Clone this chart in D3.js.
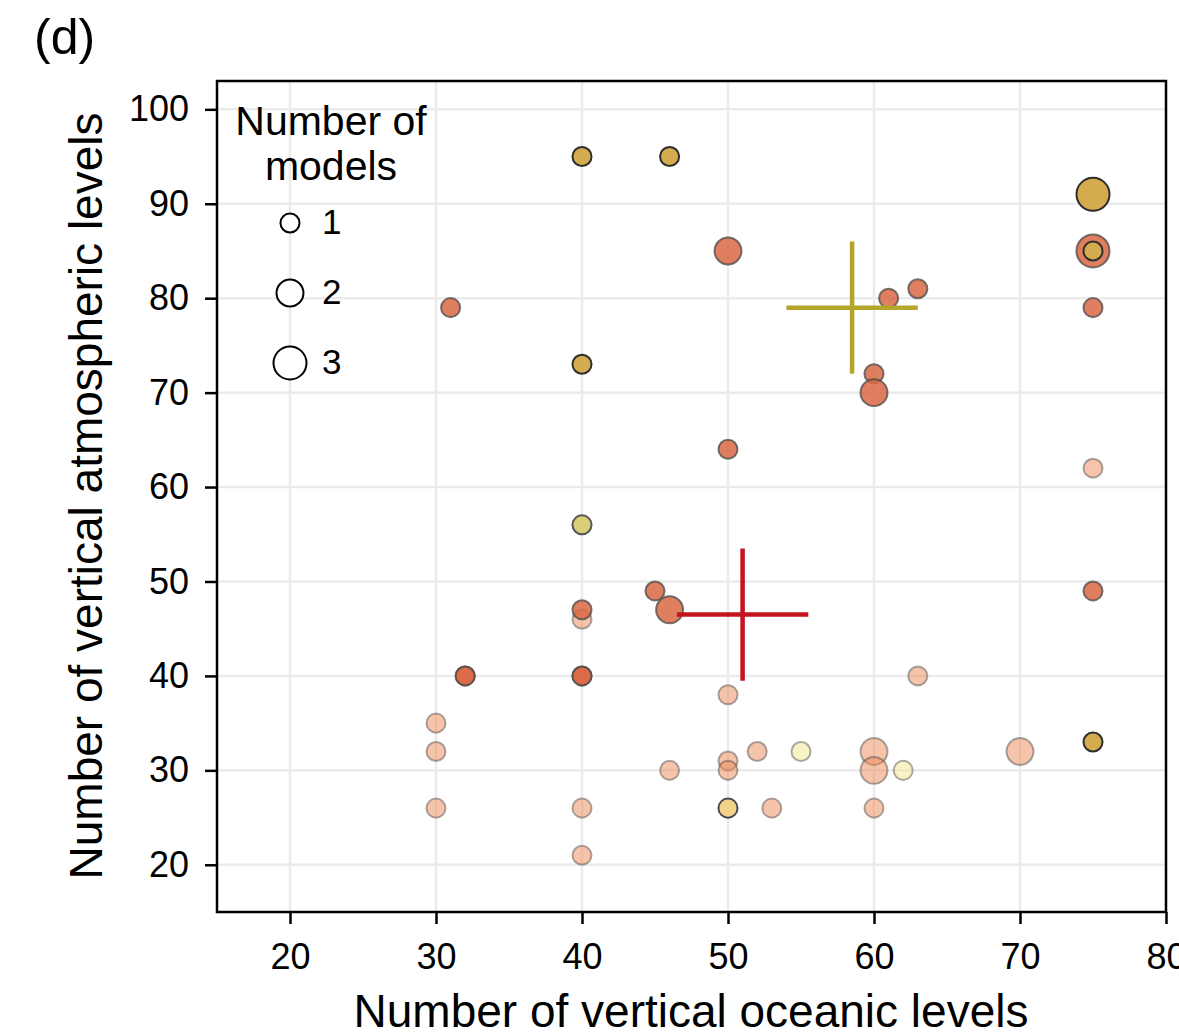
<!DOCTYPE html>
<html>
<head>
<meta charset="utf-8">
<script src="https://cdn.jsdelivr.net/npm/d3@7"></script>
<style>
body { margin: 0; background: #fff; }
svg { display: block; font-family: "Liberation Sans", Arial, sans-serif; }
</style>
</head>
<body>
<svg id="chart" width="1179" height="1036"></svg>
<script>
var panelLabel = "(d)";
var xLabel = "Number of vertical oceanic levels";
var yLabel = "Number of vertical atmospheric levels";
var xTicks = [20, 30, 40, 50, 60, 70, 80];
var yTicks = [20, 30, 40, 50, 60, 70, 80, 90, 100];
var legendTitle = ["Number of", "models"];
var legendCounts = [1, 2, 3];

// each point: [ocean levels, atmosphere levels, number of models]
var peachPoints = [[75, 62, 1], [40, 46, 1], [30, 35, 1], [30, 32, 1], [30, 26, 1], [40, 26, 1],
    [40, 21, 1], [50, 38, 1], [46, 30, 1], [50, 31, 1], [50, 30, 1], [52, 32, 1], [53, 26, 1],
    [60, 32, 2], [60, 30, 2], [60, 26, 1], [63, 40, 1], [70, 32, 2]];
var paleYellowPoints = [[55, 32, 1], [62, 30, 1]];
var lightGoldPoints = [[50, 26, 1]];
var orangePoints = [[50, 85, 2], [31, 79, 1], [61, 80, 1], [63, 81, 1], [60, 72, 1], [60, 70, 2],
    [50, 64, 1], [75, 85, 3], [75, 79, 1], [45, 49, 1], [46, 47, 2], [40, 47, 1], [32, 40, 1],
    [32, 40, 1], [40, 40, 1], [40, 40, 1], [75, 49, 1]];
var olivePoints = [[40, 56, 1]];
var goldPoints = [[40, 95, 1], [46, 95, 1], [40, 73, 1], [75, 91, 3], [75, 85, 1], [75, 33, 1]];

// mean and spread: [x, y, xLow, xHigh, yLow, yHigh]
var oliveCross = [58.5, 79, 54, 63, 72, 86];
var redCross = [51, 46.5, 46.5, 55.5, 39.5, 53.5];

var svg = d3.select("#chart");
var plotLeft = 217, plotTop = 81, plotRight = 1166, plotBottom = 912;

var x = d3.scaleLinear().domain([15, 80]).range([plotLeft, plotRight]);
var y = d3.scaleLinear().domain([15, 103]).range([plotBottom, plotTop]);
var r = d3.scaleSqrt().domain([0, 3]).range([0, 16.5]);

// grid
var grid = svg.append("g");
grid.selectAll(".gx").data(xTicks).enter().append("line")
    .attr("x1", function (d) { return x(d); }).attr("x2", function (d) { return x(d); })
    .attr("y1", plotTop).attr("y2", plotBottom)
    .attr("stroke", "#ebebeb").attr("stroke-width", 2.5);
grid.selectAll(".gy").data(yTicks).enter().append("line")
    .attr("y1", function (d) { return y(d); }).attr("y2", function (d) { return y(d); })
    .attr("x1", plotLeft).attr("x2", plotRight)
    .attr("stroke", "#ebebeb").attr("stroke-width", 2.5);

// axes
var xAxis = svg.append("g").attr("transform", "translate(0," + plotBottom + ")")
    .call(d3.axisBottom(x).tickValues(xTicks).tickSize(12).tickPadding(19).tickFormat(d3.format("d")));
var yAxis = svg.append("g").attr("transform", "translate(" + plotLeft + ",0)")
    .call(d3.axisLeft(y).tickValues(yTicks).tickSize(12).tickPadding(16).tickFormat(d3.format("d")));
[xAxis, yAxis].forEach(function (a) {
    a.select(".domain").remove();
    a.selectAll(".tick line").attr("stroke", "#000").attr("stroke-width", 2.5);
    a.selectAll(".tick text").attr("fill", "#000").style("font-size", "36px")
        .style("font-family", "'Liberation Sans', Arial, sans-serif");
});

function drawSeries(data, fill, fillOpacity, stroke, strokeOpacity) {
    svg.append("g").selectAll("circle").data(data).enter().append("circle")
        .attr("cx", function (d) { return x(d[0]); })
        .attr("cy", function (d) { return y(d[1]); })
        .attr("r", function (d) { return r(d[2]); })
        .attr("fill", fill).attr("fill-opacity", fillOpacity)
        .attr("stroke", stroke).attr("stroke-opacity", strokeOpacity)
        .attr("stroke-width", 2);
}

drawSeries(peachPoints, "#eb8a55", 0.5, "#444", 0.45);
drawSeries(paleYellowPoints, "#efe88f", 0.5, "#444", 0.45);
drawSeries(lightGoldPoints, "#f2d28a", 1, "#4a4a4a", 1);
drawSeries(orangePoints, "#da6744", 0.85, "#4a4a4a", 0.75);
drawSeries(olivePoints, "#d8cf78", 1, "#555", 1);
drawSeries(goldPoints, "#d4ab4e", 1, "#2e2e2e", 1);

function drawCross(c, color) {
    var g = svg.append("g").attr("stroke", color).attr("stroke-width", 4.5);
    g.append("line").attr("x1", x(c[2])).attr("x2", x(c[3])).attr("y1", y(c[1])).attr("y2", y(c[1]));
    g.append("line").attr("x1", x(c[0])).attr("x2", x(c[0])).attr("y1", y(c[4])).attr("y2", y(c[5]));
}
drawCross(oliveCross, "#b3a62a");
drawCross(redCross, "#c3141f");

// frame
svg.append("rect").attr("x", plotLeft).attr("y", plotTop)
    .attr("width", plotRight - plotLeft).attr("height", plotBottom - plotTop)
    .attr("fill", "none").attr("stroke", "#000").attr("stroke-width", 2.5);

// legend
var legend = svg.append("g");
legend.selectAll(".lt").data(legendTitle).enter().append("text")
    .attr("x", 331).attr("y", function (d, i) { return 135 + i * 45; })
    .attr("text-anchor", "middle").style("font-size", "41px").text(function (d) { return d; });
var ly = d3.scaleLinear().domain([1, 3]).range([223, 363]);
legend.selectAll("circle").data(legendCounts).enter().append("circle")
    .attr("cx", 290).attr("cy", function (d) { return ly(d); })
    .attr("r", function (d) { return r(d); })
    .attr("fill", "#fff").attr("stroke", "#000").attr("stroke-width", 2);
legend.selectAll(".ln").data(legendCounts).enter().append("text")
    .attr("x", 322).attr("y", function (d) { return ly(d) + 11; })
    .style("font-size", "35px").text(function (d) { return d; });

// labels
svg.append("text").attr("x", 691).attr("y", 1027).attr("text-anchor", "middle")
    .style("font-size", "46px").text(xLabel);
svg.append("text").attr("transform", "translate(102,496) rotate(-90)").attr("text-anchor", "middle")
    .style("font-size", "46px").text(yLabel);
svg.append("text").attr("x", 34).attr("y", 54).style("font-size", "50px").text(panelLabel);
</script>
</body>
</html>
